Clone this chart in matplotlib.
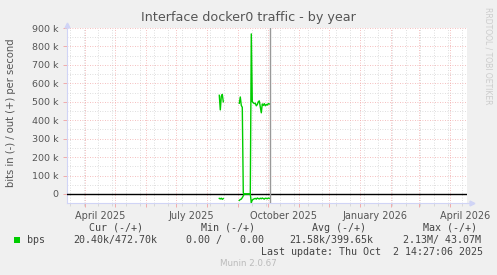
import matplotlib
matplotlib.use("Agg")
import matplotlib.pyplot as plt
import matplotlib.dates as mdates
import numpy as np
import pandas as pd
from datetime import datetime

# --- data (daily averages, bits per second) ---
seg1_start = "2025-08-13"
seg1_out = [535e3, 456e3, 530e3, 540e3, 500e3]
seg1_in = [-24e3, -27e3, -23e3, -29e3, -25e3]

seg2_start = "2025-09-02"
seg2_out = [492e3, 526e3, 480e3, 470e3, 5e3,
            0, 0, 0, 0, 0, 0, 0,
            868e3, 500e3, 495e3, 490e3, 492e3, 478e3, 485e3, 500e3, 505e3,
            472e3, 440e3, 488e3, 480e3, 490e3, 478e3, 485e3, 482e3, 490e3, 488e3]
seg2_in = [-35e3, -30e3, -28e3, -20e3, -10e3,
           0, 0, 0, 0, 0, 0, 0,
           -47e3, -33e3, -29e3, -26e3, -24e3, -28e3, -22e3, -25e3, -27e3,
           -23e3, -26e3, -22e3, -25e3, -28e3, -23e3, -24e3, -26e3, -22e3, -24e3]

yticks = [0, 100e3, 200e3, 300e3, 400e3, 500e3, 600e3, 700e3, 800e3, 900e3]
ytick_labels = ["0", "100 k", "200 k", "300 k", "400 k", "500 k", "600 k", "700 k", "800 k", "900 k"]
xlabel_dates = ["2025-04-16", "2025-07-16", "2025-10-16", "2026-01-16", "2026-04-16"]
xlabel_text = ["April 2025", "July 2025", "October 2025", "January 2026", "April 2026"]

legend_head = ["Cur (-/+)", "Min (-/+)", "Avg (-/+)", "Max (-/+)"]
legend_vals = ["20.40k/472.70k", "0.00 /   0.00", "21.58k/399.65k", "2.13M/ 43.07M"]

W, H = 497, 275
fig = plt.figure(figsize=(W / 100, H / 100), dpi=100, facecolor="#F0F0F0")

def px(x, y):
    return x / W, 1 - y / H

l, r, t, b = 67, 467, 28, 203
ax = fig.add_axes([l / W, 1 - b / H, (r - l) / W, (b - t) / H])
ax.set_facecolor("white")

d1 = pd.date_range(seg1_start, periods=len(seg1_out), freq="D")
d2 = pd.date_range(seg2_start, periods=len(seg2_out), freq="D")
dates = list(d1) + [d1[-1] + pd.Timedelta(days=1)] + list(d2)
out_v = np.array(seg1_out + [np.nan] + seg2_out)
in_v = np.array(seg1_in + [np.nan] + seg2_in)

xmin = datetime(2025, 3, 13, 17)
xmax = datetime(2026, 4, 17, 17)
ax.set_xlim(xmin, xmax)
ax.set_ylim(-49e3, 900e3)

# grid
ax.xaxis.set_major_locator(mdates.MonthLocator())
ax.xaxis.set_minor_locator(mdates.WeekdayLocator(byweekday=mdates.MO, interval=2))
ax.set_yticks(yticks)
ax.set_yticklabels(ytick_labels)
ax.set_yticks([50e3 + v for v in yticks[:-1]], minor=True)
ax.xaxis.set_major_formatter(plt.NullFormatter())

ax.grid(True, which="minor", color="#D4D4D4", linestyle=(0, (1, 2)), linewidth=0.6)
ax.grid(True, which="major", color="#F2A8A8", linestyle=(0, (1, 2)), linewidth=0.6)
ax.set_axisbelow(True)

ax.tick_params(axis="y", which="major", length=3, width=0.6, color="#F0A0A0",
               labelsize=6.8, labelcolor="#555555", pad=3)
ax.tick_params(axis="y", which="minor", length=0)
ax.tick_params(axis="x", which="major", length=3, width=0.6, color="#F0A0A0")
ax.tick_params(axis="x", which="minor", length=2, width=0.6, color="#D4D4D4")

for s in ["top", "right"]:
    ax.spines[s].set_visible(False)
for s in ["left", "bottom"]:
    ax.spines[s].set_color("#D0D4F6")
    ax.spines[s].set_linewidth(0.8)

# arrows on axes
ax.plot([0], [1.0 + 3 / (b - t)], marker="^", color="#D0D4F6", markersize=3.5,
        transform=ax.transAxes, clip_on=False)
ax.plot([1.0 + 5 / (r - l)], [0], marker=">", color="#D0D4F6", markersize=3.5,
        transform=ax.transAxes, clip_on=False)
ax.plot([1.0, 1.0 + 5 / (r - l)], [0, 0], color="#D0D4F6", lw=0.8, transform=ax.transAxes, clip_on=False)
ax.plot([0, 0], [1.0, 1.0 + 3 / (b - t)], color="#D0D4F6", lw=0.8, transform=ax.transAxes, clip_on=False)

ax.axhline(0, color="black", linewidth=1.0, zorder=3)
ax.axvline(datetime(2025, 10, 3), color="#999999", linewidth=1.0, zorder=3)

ax.plot(dates, out_v, color="#00CC00", linewidth=1.0, zorder=4)
ax.plot(dates, in_v, color="#00CC00", linewidth=1.0, zorder=4)

for d, txt in zip(xlabel_dates, xlabel_text):
    ax.text(pd.Timestamp(d), -0.045, txt, transform=ax.get_xaxis_transform(),
            ha="center", va="top", fontsize=7, color="#555555", clip_on=False)

# titles & labels
fig.text(*px(248, 18), "Interface docker0 traffic - by year", ha="center", va="center",
         fontsize=9.2, color="#555555")
fig.text(*px(11, 113), "bits in (-) / out (+) per second", ha="center", va="center",
         rotation=90, fontsize=7.2, color="#555555")
fig.text(*px(488, 56), "RRDTOOL / TOBI OETIKER", ha="center", va="center",
         rotation=270, fontsize=5.5, color="#CCCCCC")

# legend
mono = "DejaVu Sans Mono"
for x, txt in zip([89, 201, 312, 423], legend_head):
    fig.text(*px(x, 228), txt, ha="left", va="center", family=mono, fontsize=7.2, color="#444444")
fig.patches.append(plt.Rectangle(px(14, 243), 6 / W, 6 / H, transform=fig.transFigure,
                                 facecolor="#00CC00", edgecolor="none"))
fig.text(*px(27, 240), "bps", ha="left", va="center", family=mono, fontsize=7.2, color="#444444")
for x, txt in zip([73, 186, 289, 403], legend_vals):
    fig.text(*px(x, 240), txt, ha="left", va="center", family=mono, fontsize=7.2, color="#444444")
fig.text(*px(483, 252), "Last update: Thu Oct  2 14:27:06 2025", ha="right", va="center",
         family=mono, fontsize=7.2, color="#444444")
fig.text(*px(248, 264), "Munin 2.0.67", ha="center", va="center", fontsize=6.3, color="#BBBBBB")

fig.savefig("out.png", dpi=100, facecolor=fig.get_facecolor())
